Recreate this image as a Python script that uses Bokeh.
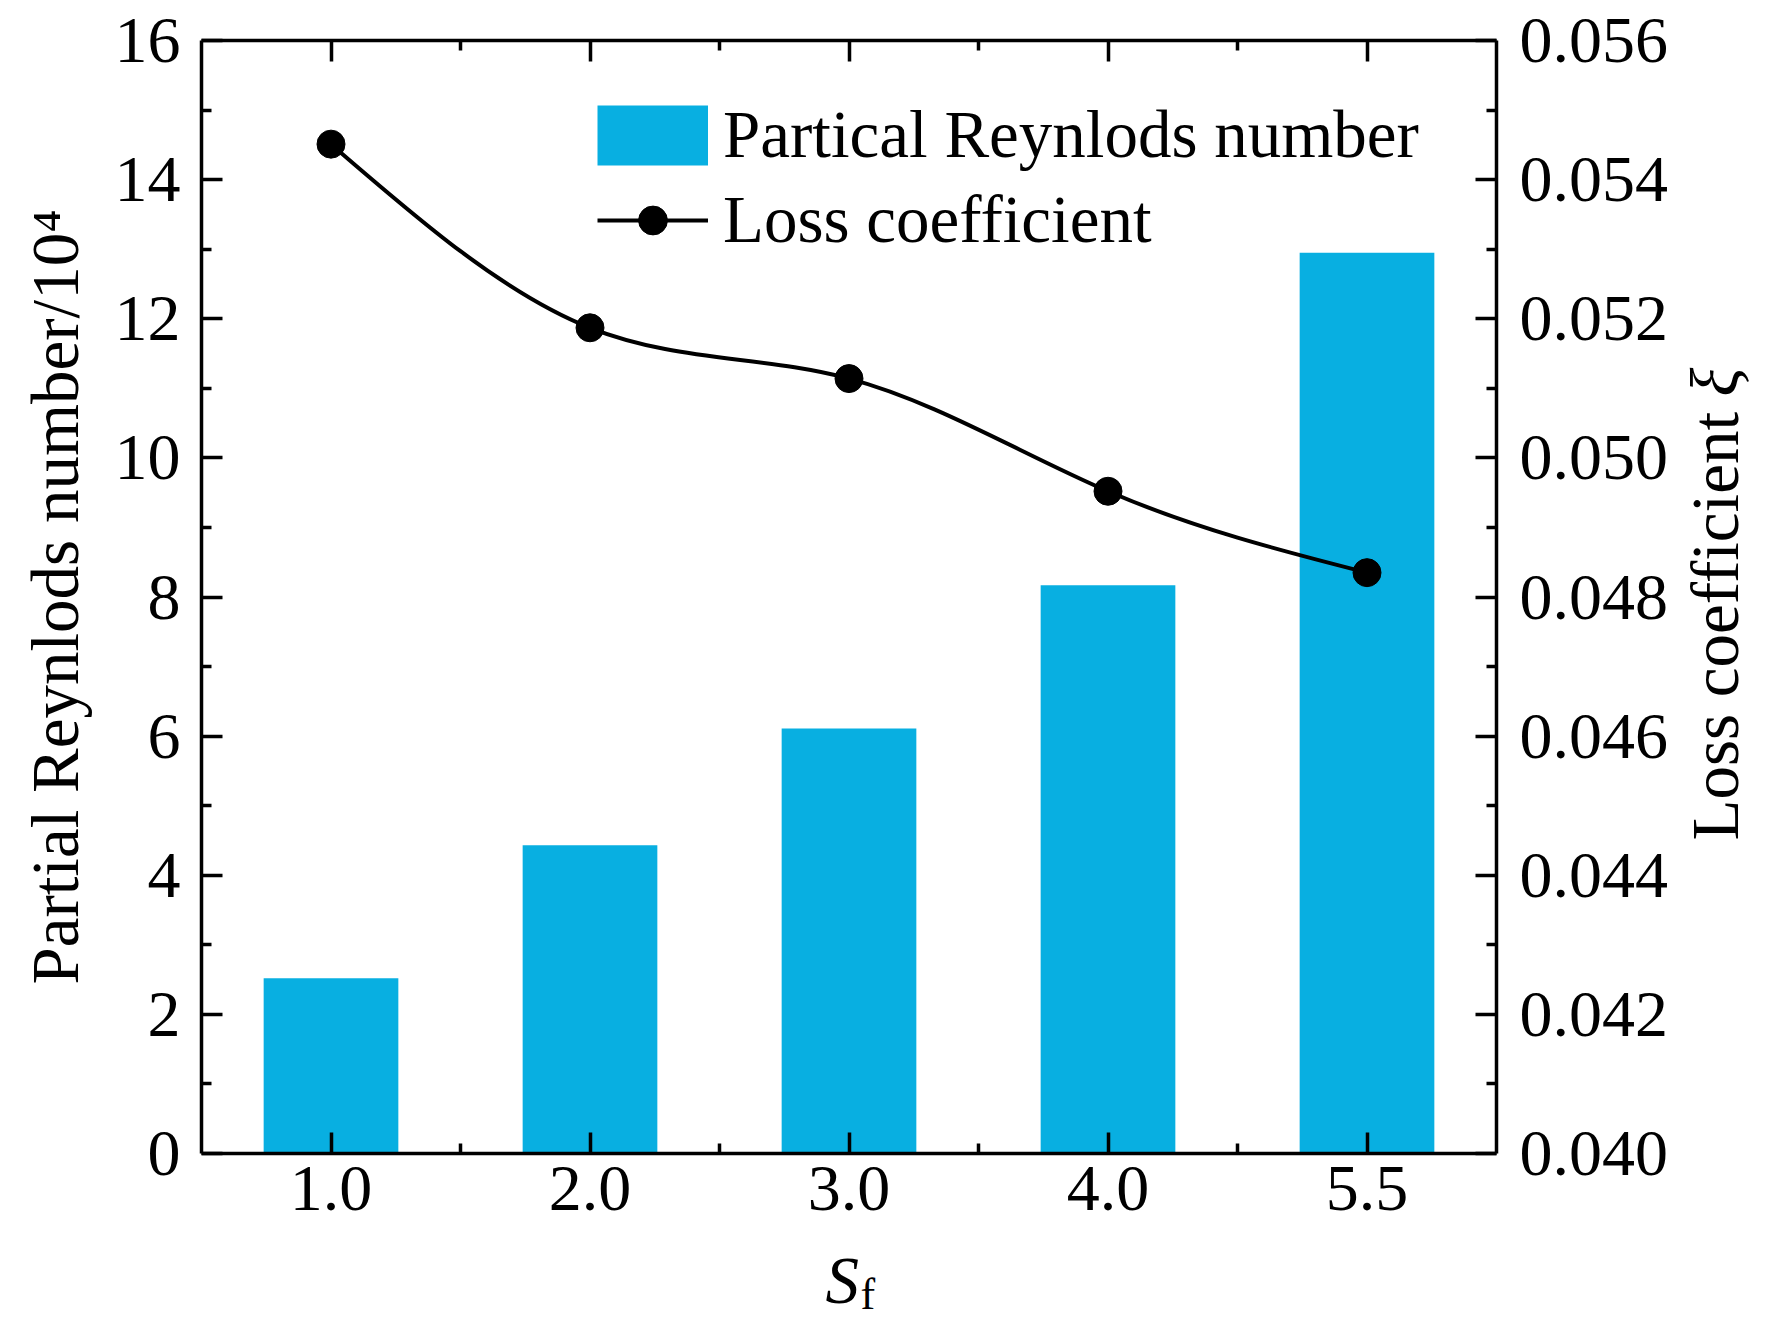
import numpy as np
from bokeh.plotting import figure
from bokeh.layouts import row, column
from bokeh.models import (ColumnDataSource, Range1d, LinearAxis, FixedTicker,
                          PrintfTickFormatter, CustomJSTickFormatter, Legend,
                          LegendItem, Label)
from bokeh.embed import file_html
from bokeh.resources import INLINE

# ---- data ----
categories = ["1.0", "2.0", "3.0", "4.0", "5.5"]
reynolds = [2.52, 4.43, 6.11, 8.17, 12.95]          # partial Reynolds number / 1e4
loss = [0.05451, 0.05187, 0.05114, 0.04952, 0.04835]  # loss coefficient
left_ticks = [0, 2, 4, 6, 8, 10, 12, 14, 16]
left_minor = [1, 3, 5, 7, 9, 11, 13, 15]
right_ticks = [0.040, 0.042, 0.044, 0.046, 0.048, 0.050, 0.052, 0.054, 0.056]
right_minor = [0.041, 0.043, 0.045, 0.047, 0.049, 0.051, 0.053, 0.055]

FONT = "Liberation Serif"
BAR = "#08AFE1"

xpos = list(range(len(categories)))
x_minor = [i + 0.5 for i in xpos[:-1]]

TOTAL_W, TOTAL_H = 1756, 1318
MAIN_W, MAIN_H = 1674, 1240
FRAME_L, FRAME_R, FRAME_T, FRAME_B = 201, 1496, 40, 1153

p = figure(width=MAIN_W, height=MAIN_H, output_backend="svg", toolbar_location=None,
           x_range=Range1d(-0.5, len(categories) - 0.5), y_range=Range1d(0, 16),
           min_border_left=FRAME_L, min_border_right=MAIN_W - FRAME_R,
           min_border_top=FRAME_T, min_border_bottom=MAIN_H - FRAME_B)
p.extra_y_ranges = {"right": Range1d(0.040, 0.056)}
p.outline_line_color = None
p.xgrid.visible = False
p.ygrid.visible = False
p.background_fill_color = "white"
p.border_fill_color = "white"


def style(ax, labels=True):
    ax.axis_line_width = 3.5
    ax.axis_line_color = "black"
    ax.major_tick_line_width = 3.5
    ax.minor_tick_line_width = 3.5
    ax.major_tick_in = 21
    ax.major_tick_out = 0
    ax.minor_tick_in = 10
    ax.minor_tick_out = 0
    ax.major_label_text_font = FONT
    ax.major_label_text_font_size = "66px" if labels else "1px"
    ax.major_label_text_color = "black"
    ax.axis_label_text_font = FONT
    ax.axis_label_text_font_style = "normal"
    ax.axis_label_text_font_size = "67px"
    ax.axis_label_text_color = "black"


# bottom axis
xax = p.xaxis[0]
xax.ticker = FixedTicker(ticks=xpos, minor_ticks=x_minor)
xax.major_label_overrides = {i: c for i, c in zip(xpos, categories)}
style(xax)
xax.major_label_standoff = 13

# left axis
yax = p.yaxis[0]
yax.ticker = FixedTicker(ticks=left_ticks, minor_ticks=left_minor)
style(yax)
yax.major_label_standoff = 21
yax.axis_label = "Partial Reynlods number/10\u2074"
yax.axis_label_standoff = 20

# right axis
rax = LinearAxis(y_range_name="right",
                 ticker=FixedTicker(ticks=right_ticks, minor_ticks=right_minor),
                 formatter=PrintfTickFormatter(format="%.3f"))
style(rax)
rax.major_label_standoff = 23
p.add_layout(rax, "right")

# top axis (ticks only)
tax = LinearAxis(ticker=FixedTicker(ticks=xpos, minor_ticks=x_minor),
                 formatter=CustomJSTickFormatter(code="return ''"))
style(tax, labels=False)
tax.major_label_standoff = 0
p.add_layout(tax, "above")

# bars
src = ColumnDataSource(dict(x=xpos, top=reynolds))
bars = p.vbar(x="x", top="top", bottom=0, width=0.52, source=src,
              fill_color=BAR, line_color=None)
# legend swatch helper (NaN data, nothing drawn on the plot; only its legend glyph)
swatch = p.line(x=[np.nan], y=[np.nan], line_color=BAR, line_width=60, line_cap="butt")

# smooth (natural cubic spline) curve through the loss points, drawn as Bezier segments
y = np.array(loss, dtype=float)
xs = np.array(xpos, dtype=float)
n = len(y)
A = np.zeros((n, n))
b = np.zeros(n)
A[0, 0] = 1.0
A[-1, -1] = 1.0
for i in range(1, n - 1):
    A[i, i - 1], A[i, i], A[i, i + 1] = 1.0, 4.0, 1.0
    b[i] = 6.0 * (y[i + 1] - 2 * y[i] + y[i - 1])
M = np.linalg.solve(A, b)
m = np.zeros(n)
for i in range(n - 1):
    m[i] = (y[i + 1] - y[i]) - (2 * M[i] + M[i + 1]) / 6.0
m[-1] = (y[-1] - y[-2]) + (M[-2] + 2 * M[-1]) / 6.0

bsrc = ColumnDataSource(dict(
    x0=xs[:-1], y0=y[:-1], x1=xs[1:], y1=y[1:],
    cx0=xs[:-1] + 1 / 3, cy0=y[:-1] + m[:-1] / 3,
    cx1=xs[1:] - 1 / 3, cy1=y[1:] - m[1:] / 3))
curve = p.bezier(x0="x0", y0="y0", x1="x1", y1="y1", cx0="cx0", cy0="cy0",
                 cx1="cx1", cy1="cy1", source=bsrc, y_range_name="right",
                 line_color="black", line_width=4)

lsrc = ColumnDataSource(dict(x=xpos, y=loss))
pts = p.scatter(x="x", y="y", source=lsrc, y_range_name="right", size=28,
                marker="circle", fill_color="black", line_color="black")

legend = Legend(items=[
    LegendItem(label="Partical Reynlods number", renderers=[bars, swatch]),
    LegendItem(label="Loss coefficient", renderers=[curve, pts]),
], location=(396, 895))
legend.border_line_color = None
legend.background_fill_alpha = 0
legend.padding = 0
legend.margin = 0
legend.spacing = 8
legend.glyph_width = 111
legend.glyph_height = 72
legend.label_height = 72
legend.label_standoff = 15
legend.label_text_font = FONT
legend.label_text_font_size = "67px"
legend.label_text_color = "black"
p.add_layout(legend, "center")


def text_panel(w, h, top=0, bottom=0):
    f = figure(width=w, height=h, output_backend="svg", toolbar_location=None,
               x_range=Range1d(0, w), y_range=Range1d(0, h - top - bottom),
               x_axis_type=None, y_axis_type=None, min_border=0,
               min_border_top=top, min_border_bottom=bottom)
    f.outline_line_color = None
    f.xgrid.visible = False
    f.ygrid.visible = False
    f.background_fill_color = "white"
    f.border_fill_color = "white"
    return f


def base_shift(px):
    # Bokeh places the alphabetic baseline ~0.309 em below a Label's anchor
    return 0.309 * px


# right-axis title: "Loss coefficient" + italic xi, reading bottom to top
RW = TOTAL_W - MAIN_W
rfig = text_panel(RW, MAIN_H, top=FRAME_T, bottom=MAIN_H - FRAME_B)
rx = (1735 - MAIN_W) - base_shift(67)
ry = FRAME_B - 840
rfig.add_layout(Label(x=rx, y=ry, text="Loss coefficient", angle=np.pi / 2,
                      text_font=FONT, text_font_size="67px", text_color="black",
                      text_baseline="alphabetic", text_align="left"))
rfig.add_layout(Label(x=rx, y=ry + 444, text="\u03be", angle=np.pi / 2,
                      text_font=FONT, text_font_style="italic", text_font_size="67px",
                      text_color="black", text_baseline="alphabetic", text_align="left"))

# x-axis title: italic S with subscript f
BH = TOTAL_H - MAIN_H
bfig = text_panel(TOTAL_W, BH)
bfig.add_layout(Label(x=825, y=(TOTAL_H - 1300) + base_shift(67), text="S",
                      text_font=FONT, text_font_style="italic", text_font_size="67px",
                      text_color="black", text_baseline="alphabetic", text_align="left"))
bfig.add_layout(Label(x=860, y=(TOTAL_H - 1308) + base_shift(44), text="f",
                      text_font=FONT, text_font_size="44px",
                      text_color="black", text_baseline="alphabetic", text_align="left"))

layout = column(row(p, rfig, spacing=0), bfig, spacing=0)

open("out.html", "w").write(file_html(layout, INLINE))
